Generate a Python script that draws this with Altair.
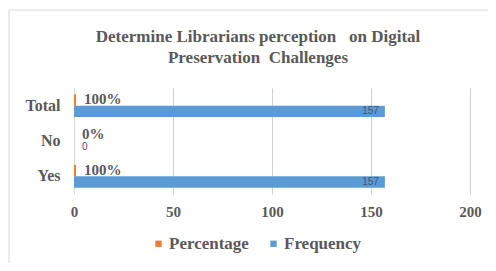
import altair as alt
import pandas as pd

categories = ["Total", "No", "Yes"]
series = ["Percentage", "Frequency"]
percentage = [1.0, 0.0, 1.0]
frequency = [157, 0, 157]
x_ticks = [0, 50, 100, 150, 200]
colors = ["#ED7D31", "#5B9BD5"]
title_lines = ["Determine Librarians perception\u00a0\u00a0\u00a0on Digital",
               "Preservation\u00a0 Challenges"]

rows = []
for c, p, f in zip(categories, percentage, frequency):
    rows.append({"category": c, "series": "Percentage", "value": p})
    rows.append({"category": c, "series": "Frequency", "value": f})
df = pd.DataFrame(rows)

SERIF = "Liberation Serif"
GRAY = "#595959"

y = alt.Y("category:N", sort=categories, title=None,
          scale=alt.Scale(paddingInner=0.36, paddingOuter=0.18),
          axis=alt.Axis(labelFont=SERIF, labelFontWeight="bold", labelFontSize=16,
                        labelColor=GRAY, labelPadding=14, ticks=False,
                        domainColor="#d9d9d9"))
yoff = alt.YOffset("series:N", sort=series, scale=alt.Scale(domain=series))
x = alt.X("value:Q", title=None,
          scale=alt.Scale(domain=[0, 200], nice=False),
          axis=alt.Axis(values=x_ticks, labelFont=SERIF, labelFontWeight="bold",
                        labelFontSize=15, labelColor=GRAY, labelPadding=10,
                        ticks=False, domain=False, gridColor="#d0d0d0",
                        labelFlush=False))

base = alt.Chart(df)

frame = alt.Chart(pd.DataFrame({"a": [0]})).mark_rect(
    fill=None, stroke="#d9d9d9", strokeWidth=1
).encode(x=alt.value(-65), x2=alt.value(600), y=alt.value(-78), y2=alt.value(400))

bars = base.mark_bar().encode(
    y=y, yOffset=yoff, x=x,
    color=alt.Color("series:N", sort=series,
                    scale=alt.Scale(domain=series, range=colors),
                    legend=alt.Legend(title=None, orient="none", direction="horizontal",
                                      legendX=76, legendY=147, symbolType="square",
                                      symbolSize=40, labelFont=SERIF, labelFontWeight="bold",
                                      labelFontSize=17, labelColor=GRAY, columnPadding=16,
                                      symbolStrokeWidth=0, labelOffset=2)),
)

pct_text = base.transform_filter(alt.datum.series == "Percentage").mark_text(
    align="left", baseline="middle", dx=8, dy=-1, font=SERIF, fontWeight="bold",
    fontSize=15, color=GRAY
).encode(y=y, yOffset=yoff, x=x, text=alt.Text("value:Q", format=".0%"))

freq_text = base.transform_filter(
    (alt.datum.series == "Frequency") & (alt.datum.value > 0)
).mark_text(
    align="right", baseline="middle", dx=-6, font="Liberation Sans",
    fontSize=10, color="#44546A"
).encode(y=y, yOffset=yoff, x=x, text=alt.Text("value:Q"))

zero_text = base.transform_filter(
    (alt.datum.series == "Frequency") & (alt.datum.value == 0)
).mark_text(
    align="left", baseline="middle", dx=8, dy=0, font="Liberation Sans",
    fontSize=10, color="#44546A"
).encode(y=y, yOffset=yoff, x=x, text=alt.Text("value:Q"))

chart = alt.layer(frame, bars, pct_text, freq_text, zero_text).properties(
    width=396, height=106,
    title=alt.TitleParams(title_lines, font=SERIF, fontWeight="bold", fontSize=17,
                          color=GRAY, anchor="middle", offset=-57, dx=-14, lineHeight=21),
    autosize=alt.AutoSizeParams(type="none"),
    padding={"left": 66, "top": 80, "right": 18, "bottom": 69},
).configure_view(stroke=None)

chart.save("out.html", embed_options={"renderer": "svg", "actions": False})
